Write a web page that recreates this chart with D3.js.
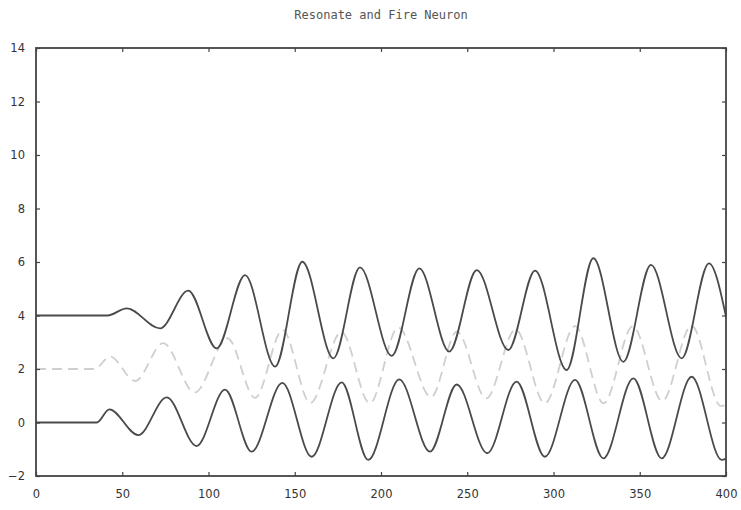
<!DOCTYPE html>
<html>
<head>
<meta charset="utf-8">
<script src="https://cdn.jsdelivr.net/npm/d3@7"></script>
<style>
  html, body { margin: 0; padding: 0; background: #fff; }
  svg { display: block; }
</style>
</head>
<body>
<svg id="chart" width="741" height="510"></svg>
<script>
// Axis ticks
const xTicks = [0, 50, 100, 150, 200, 250, 300, 350, 400];
const yTicks = [-2, 0, 2, 4, 6, 8, 10, 12, 14];

// Upper trace (offset +4): sample times and values at rest / extrema
const upperT = [0, 41.5, 52.6, 71.9, 88.3, 104.7, 121.2, 138.6, 154.4, 172.4, 187.8, 206.2, 222.2, 239.6, 255.5, 273.8, 289.3, 307.6, 323.1, 340.5, 356.5, 374.3, 390.1, 400];
const upperV = [4.0, 4.0, 4.27, 3.52, 4.93, 2.77, 5.51, 2.09, 6.01, 2.4, 5.8, 2.49, 5.76, 2.65, 5.7, 2.71, 5.68, 1.96, 6.14, 2.27, 5.89, 2.4, 5.95, 3.96];

// Middle trace (offset +2), drawn dashed in light grey
const middleT = [0, 34, 42.9, 57.5, 73.7, 92, 111, 127, 143, 159, 177, 193.5, 210, 229, 244, 261, 278, 295, 312.5, 329, 346, 363, 380, 397, 400];
const middleV = [2.0, 2.0, 2.47, 1.55, 2.97, 1.12, 3.15, 0.92, 3.46, 0.73, 3.38, 0.72, 3.55, 0.95, 3.4, 0.9, 3.48, 0.72, 3.6, 0.72, 3.6, 0.8, 3.62, 0.62, 0.66];

// Lower trace (offset 0)
const lowerT = [0, 35.2, 42.5, 59.3, 75.8, 93.1, 109.6, 125, 142.8, 159.8, 177.2, 192.6, 210.6, 228.4, 243.9, 261.6, 278.6, 295, 312.5, 328.9, 346.3, 362.7, 380.1, 397.5, 400];
const lowerV = [0, 0, 0.49, -0.47, 0.94, -0.88, 1.23, -1.09, 1.48, -1.28, 1.5, -1.4, 1.61, -1.09, 1.42, -1.15, 1.53, -1.28, 1.59, -1.34, 1.65, -1.34, 1.71, -1.4, -1.35];

const titleText = "Resonate and Fire Neuron";

const svg = d3.select("#chart");
const margin = { top: 48, right: 15, bottom: 34, left: 36 };
const W = 741 - margin.left - margin.right;
const H = 510 - margin.top - margin.bottom;

const x = d3.scaleLinear().domain([0, 400]).range([0, W]);
const y = d3.scaleLinear().domain([-2, 14]).range([H, 0]);

const g = svg.append("g").attr("transform", `translate(${margin.left},${margin.top})`);

// Title
svg.append("text")
  .attr("x", margin.left + W / 2)
  .attr("y", 19)
  .attr("text-anchor", "middle")
  .attr("font-family", "DejaVu Sans Mono, monospace")
  .attr("font-size", 12)
  .attr("fill", "#555")
  .text(titleText);

// Traces
const zip = (ts, vs) => ts.map((t, i) => [t, vs[i]]);
const line = d3.line()
  .x(d => x(d[0]))
  .y(d => y(d[1]))
  .curve(d3.curveMonotoneX);

g.append("path")
  .datum(zip(middleT, middleV))
  .attr("fill", "none")
  .attr("stroke", "#cfcfcf")
  .attr("stroke-width", 1.8)
  .attr("stroke-dasharray", "10,6")
  .attr("d", line);

g.append("path")
  .datum(zip(upperT, upperV))
  .attr("fill", "none")
  .attr("stroke", "#4a4a4a")
  .attr("stroke-width", 1.8)
  .attr("d", line);

g.append("path")
  .datum(zip(lowerT, lowerV))
  .attr("fill", "none")
  .attr("stroke", "#4a4a4a")
  .attr("stroke-width", 1.8)
  .attr("d", line);

// Axes with inward ticks, mirrored on top and right
function styleAxis(sel) {
  sel.select(".domain").remove();
  sel.selectAll(".tick line").attr("stroke", "#444").attr("stroke-width", 1.2);
  sel.selectAll(".tick text")
    .attr("font-family", "DejaVu Sans, sans-serif")
    .attr("font-size", 11.5)
    .attr("fill", "#333");
}

g.append("g")
  .attr("transform", `translate(0,${H})`)
  .call(d3.axisBottom(x).tickValues(xTicks).tickSize(-4).tickPadding(14).tickFormat(d3.format("d")))
  .call(styleAxis);

g.append("g")
  .call(d3.axisLeft(y).tickValues(yTicks).tickSize(-4).tickPadding(11).tickFormat(d3.format("d")))
  .call(styleAxis);

g.append("g")
  .call(d3.axisTop(x).tickValues(xTicks).tickSize(-4).tickFormat(""))
  .call(styleAxis);

g.append("g")
  .attr("transform", `translate(${W},0)`)
  .call(d3.axisRight(y).tickValues(yTicks).tickSize(-4).tickFormat(""))
  .call(styleAxis);

// Plot frame
g.append("rect")
  .attr("x", 0).attr("y", 0)
  .attr("width", W).attr("height", H)
  .attr("fill", "none")
  .attr("stroke", "#444")
  .attr("stroke-width", 1.8);
</script>
</body>
</html>
